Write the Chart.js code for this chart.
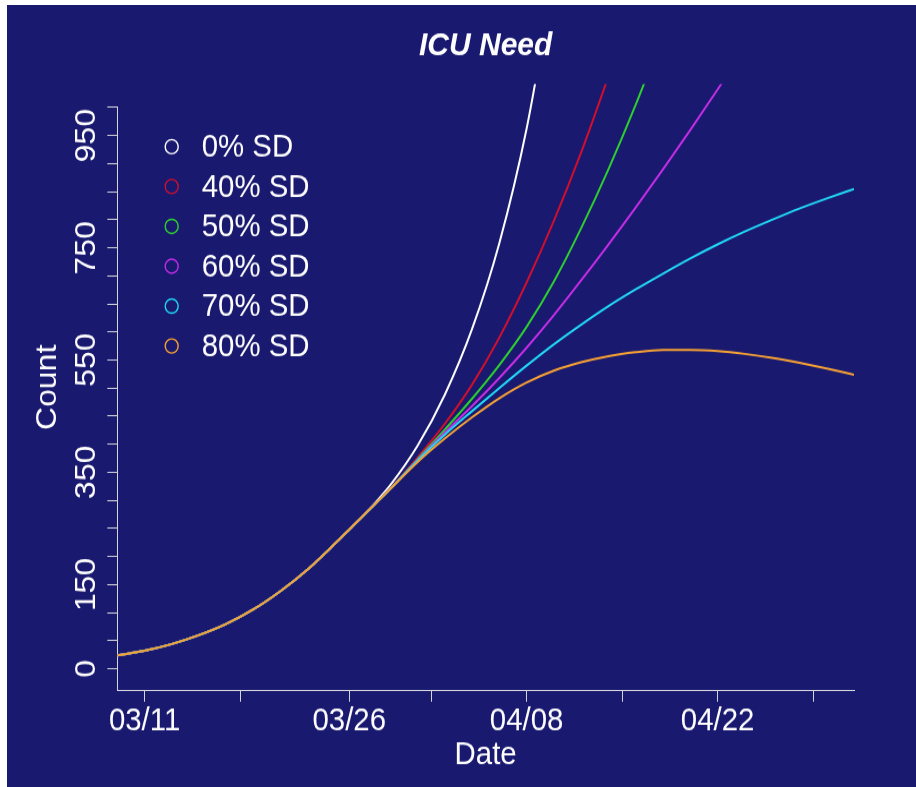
<!DOCTYPE html>
<html>
<head>
<meta charset="utf-8">
<title>ICU Need</title>
<script src="https://cdn.jsdelivr.net/npm/chart.js@4.4.1/dist/chart.umd.min.js"></script>
<style>
  html, body { margin: 0; padding: 0; background: #ffffff; overflow: hidden; }
  #frame { position: absolute; left: 7px; top: 5px; width: 909px; height: 782px; background: #191970; overflow: hidden; }
  /* the figure is drawn 717px tall and shown stretched to the 782px frame */
  #stretch { position: absolute; left: 0; top: 0; width: 909px; height: 717px; transform: scaleY(1.090656); transform-origin: 0 0; }
</style>
</head>
<body>
<div id="frame"><div id="stretch"><canvas id="icu"></canvas></div></div>
<script>
// Days counted from 03/09
const days = [0, 2, 4, 6, 8, 10, 12, 14, 16, 18, 20, 22, 24, 26, 28, 30, 32, 34, 36, 38, 40, 42, 44, 46, 48, 50, 52, 54];

// Projected ICU need under each social-distancing level
const sd0  = [24, 32, 44, 60, 80, 106, 139, 178, 224, 272, 327, 397, 488, 605, 758, 962, 1235];
const sd40 = [24, 32, 44, 60, 80, 106, 139, 178, 224, 272, 321, 376, 436, 506, 590, 688, 798, 920, 1055];
const sd50 = [24, 32, 44, 60, 80, 106, 139, 178, 224, 272, 320, 373, 426, 481, 541, 609, 690, 785, 890, 1005, 1130];
const sd60 = [24, 32, 44, 60, 80, 106, 139, 178, 224, 272, 320, 372, 421, 468, 518, 572, 630, 692, 756, 822, 890, 960, 1032, 1106];
const sd70 = [24, 32, 44, 60, 80, 106, 139, 178, 224, 272, 320, 371, 417, 459, 500, 540, 578, 613, 646, 676, 704, 731, 756, 779, 800, 820, 838, 855];
const sd80 = [24, 32, 44, 60, 80, 106, 139, 178, 224, 272, 320, 368, 410, 448, 482, 510, 531, 546, 557, 564, 568, 568, 566, 561, 554, 545, 535, 524];

const seriesNames  = ['0% SD', '40% SD', '50% SD', '60% SD', '70% SD', '80% SD'];
const seriesColors = ['#ffffff', '#d0102c', '#2fd12f', '#c62ee6', '#22d8f5', '#f7a233'];
const seriesValues = [sd0, sd40, sd50, sd60, sd70, sd80];

// Axis ticks
const dateTicks  = [2, 9, 17, 23, 30, 37, 44, 51];
const dateLabels = ['03/11', '', '03/26', '', '04/08', '', '04/22', ''];
const countTicks  = [0, 50, 100, 150, 200, 250, 300, 350, 400, 450, 500, 550, 600, 650, 700, 750, 800, 850, 900, 950, 1000];
const countLabels = [0, 150, 350, 550, 750, 950];

const FONT = "'Liberation Sans', Arial, Helvetica, sans-serif";
const FONT_SIZE = 29.4;
const AXIS = '#d4d4dc';
const TOP_OVERFLOW = 21.5;   // plotting region reaches a little above the 1000 tick

const datasets = seriesValues.map((vals, i) => ({
  label: seriesNames[i],
  data: vals.map((v, k) => ({ x: days[k], y: v })),
  borderColor: seriesColors[i],
  backgroundColor: 'transparent',
  borderWidth: 2,
  pointRadius: 0,
  fill: false,
  cubicInterpolationMode: 'monotone',
  clip: { left: 0, top: TOP_OVERFLOW, right: 0, bottom: 0 },
  order: seriesValues.length - 1 - i
}));

// Main title and the vertical axis title, centred on the plotting region
const titlePlugin = {
  id: 'plotTitles',
  afterDraw(chart) {
    const { ctx, chartArea } = chart;
    ctx.save();
    ctx.fillStyle = '#ffffff';
    ctx.textAlign = 'center';
    ctx.textBaseline = 'middle';
    ctx.font = `italic bold 30px ${FONT}`;
    ctx.fillText('ICU Need', (chartArea.left + chartArea.right) / 2, 37.6);
    ctx.font = `${FONT_SIZE}px ${FONT}`;
    ctx.translate(41.3, (chartArea.top - TOP_OVERFLOW + chartArea.bottom) / 2);
    ctx.rotate(-Math.PI / 2);
    ctx.fillText('Count', 0, 0);
    ctx.restore();
  }
};

// Legend with hollow circle keys in the upper-left of the plot
const keyPlugin = {
  id: 'circleKey',
  afterDraw(chart) {
    const { ctx, chartArea } = chart;
    const x0 = chartArea.left + 54.4;
    const y0 = chartArea.top + 35.9;
    ctx.save();
    chart.data.datasets.forEach((ds, i) => {
      const y = y0 + i * 36.54;
      ctx.beginPath();
      ctx.arc(x0, y, 6.5, 0, Math.PI * 2);
      ctx.strokeStyle = ds.borderColor;
      ctx.lineWidth = 1.4;
      ctx.stroke();
      ctx.fillStyle = '#ffffff';
      ctx.font = `${FONT_SIZE}px ${FONT}`;
      ctx.textAlign = 'left';
      ctx.textBaseline = 'middle';
      ctx.fillText(ds.label, x0 + 30, y + 1);
    });
    ctx.restore();
  }
};

new Chart(document.getElementById('icu'), {
  type: 'line',
  data: { datasets },
  plugins: [titlePlugin, keyPlugin],
  options: {
    responsive: true,
    maintainAspectRatio: false,
    animation: false,
    events: [],
    layout: { padding: { top: 93.98, right: 62, bottom: 0, left: 0 } },
    plugins: { legend: { display: false }, title: { display: false }, tooltip: { enabled: false } },
    scales: {
      x: {
        type: 'linear',
        min: 0,
        max: 54,
        afterBuildTicks: s => { s.ticks = dateTicks.map(v => ({ value: v })); },
        afterFit: s => { s.height = 88.29; },
        ticks: {
          autoSkip: false, maxRotation: 0, minRotation: 0,
          color: '#ffffff', font: { family: FONT, size: FONT_SIZE }, padding: 0,
          callback: (v, i) => dateLabels[i]
        },
        grid: { display: true, drawOnChartArea: false, drawTicks: true, tickLength: 10.1, color: AXIS, lineWidth: 1 },
        border: { display: true, color: AXIS, width: 1 },
        title: { display: true, text: 'Date', color: '#ffffff', font: { family: FONT, size: FONT_SIZE }, padding: { top: 0, bottom: 11.5 } }
      },
      y: {
        type: 'linear',
        min: -39.2,
        max: 1000,
        afterBuildTicks: s => { s.ticks = countTicks.map(v => ({ value: v })); },
        afterFit: s => { s.width = 110.3; },
        ticks: {
          autoSkip: false, minRotation: 90, maxRotation: 90, crossAlign: 'center',
          color: '#ffffff', font: { family: FONT, size: FONT_SIZE }, padding: -4.5,
          callback: v => countLabels.includes(v) ? String(v) : ''
        },
        grid: { display: true, drawOnChartArea: false, drawTicks: true, tickLength: 10, color: AXIS, lineWidth: 1 },
        border: { display: true, color: AXIS, width: 1 }
      }
    }
  }
});
</script>
</body>
</html>
